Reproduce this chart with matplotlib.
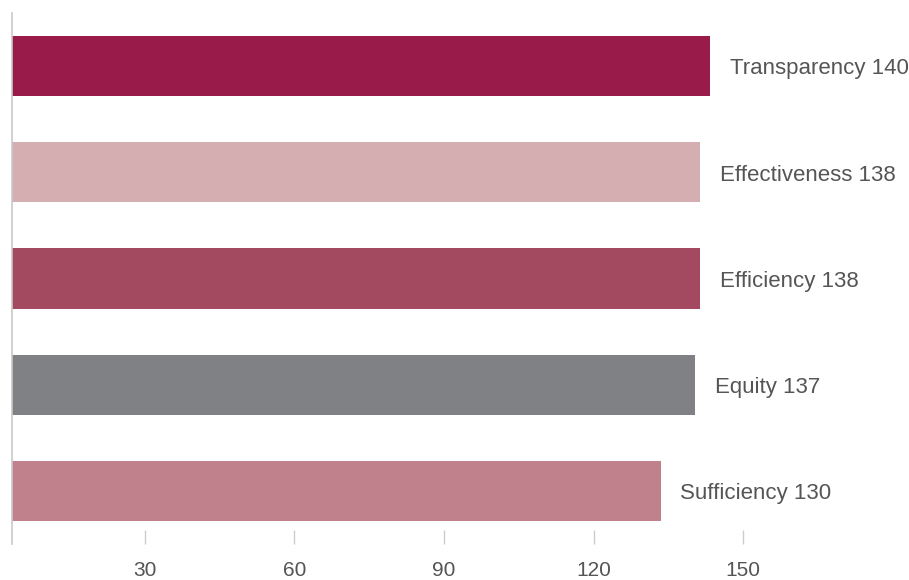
import matplotlib
matplotlib.use("Agg")
import matplotlib.pyplot as plt

categories = ["Transparency", "Effectiveness", "Efficiency", "Equity", "Sufficiency"]
values = [140, 138, 138, 137, 130]
colors = ["#991b4a", "#d5aeb2", "#a34a60", "#808184", "#c1818c"]
tick_values = [30, 60, 90, 120, 150]

plt.rcParams["font.family"] = ["Liberation Sans", "DejaVu Sans"]

fig = plt.figure(figsize=(9.09, 5.8), dpi=100)
ax = fig.add_axes([12 / 909, 36 / 580, 897 / 909, 531 / 580])

ypos = list(range(len(categories)))
ax.barh(ypos, values, height=0.565, color=colors, left=0)

for y, name, v in zip(ypos, categories, values):
    ax.annotate(f"{name} {v}", xy=(v, y), xytext=(14, -2), textcoords="offset points",
                va="center", ha="left", fontsize=16, color="#555555")

ax.set_xlim(0, 179.8)
ax.set_ylim(len(categories) - 0.5, -0.5)

# tick marks sit a few units left of their nominal value on this scale
tick_shift = 3.4
ax.set_xticks([t - tick_shift for t in tick_values])
ax.set_xticklabels([str(t) for t in tick_values])
ax.tick_params(axis="x", direction="in", length=10, width=1, color="#cccccc",
               labelsize=15, labelcolor="#555555", pad=12)
ax.set_yticks([])

for side in ["top", "right", "bottom"]:
    ax.spines[side].set_visible(False)
ax.spines["left"].set_color("#c8c8c8")
ax.spines["left"].set_linewidth(1.2)

fig.savefig("out.png", dpi=100)
